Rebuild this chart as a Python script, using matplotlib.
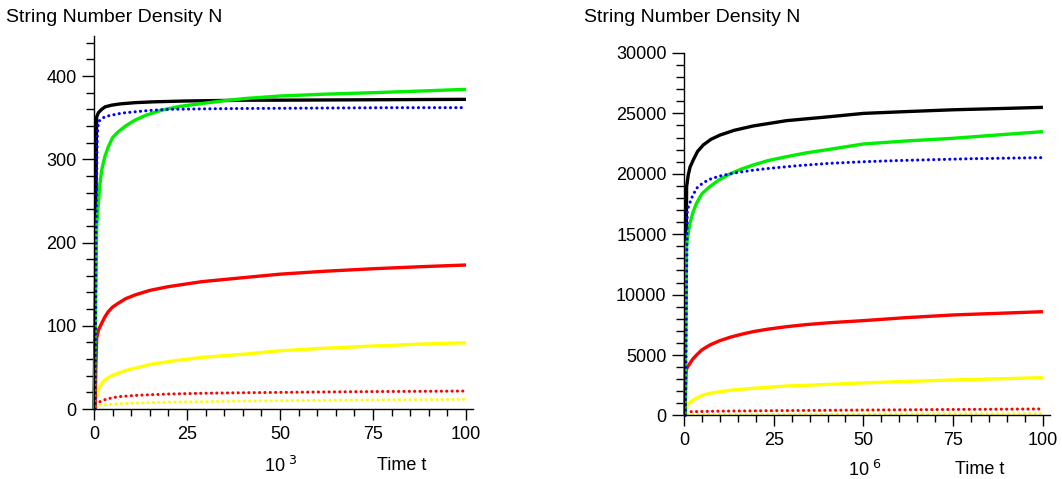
"""
String number density N versus time t, two panels (10^3 and 10^6 time units).
"""

import matplotlib

matplotlib.use("Agg")
import matplotlib.pyplot as plt
from matplotlib.ticker import MultipleLocator

plt.rcParams["font.family"] = ["Liberation Sans", "DejaVu Sans"]

# ---- left panel data (t in units of 10^3) ----
t_black_a = [0, 0.4, 0.6, 0.72, 1.2, 2.07, 3, 4.75, 7, 11, 16, 24.5, 40.6, 50, 75, 100]
n_black_a = [0, 150, 300, 351, 356, 360, 363, 365, 366.5, 368, 369, 370, 371, 371, 371.5, 372]

t_blue_a = [0.3, 0.45, 0.55, 0.75, 0.9, 1.2, 2.07, 3.2, 4.75, 7.5, 11, 15, 20, 30, 40, 60, 80, 100]
n_blue_a = [0, 115, 200, 290, 330, 345, 349, 351.5, 353, 355.5, 357, 358.7, 360, 360.6, 361, 361.5, 362, 362]

t_green_a = [0.1, 0.3, 0.5, 0.72, 1.17, 1.6, 2.07, 2.9, 3.85, 5, 6.5, 8.5, 11, 14, 18.2, 23, 29, 35, 40.6, 50, 62, 75, 88, 100]
n_green_a = [0, 80, 160, 219, 247, 270, 287, 303, 315, 326, 333, 340, 347, 353, 359, 363.5, 367, 370.3, 373, 376, 378.2, 380, 382, 384]

t_red_a = [0.3, 0.5, 0.72, 1.2, 2.07, 2.9, 3.85, 5, 6.5, 8.5, 11, 15, 20, 29, 40.6, 50, 62, 75, 88, 100]
n_red_a = [0, 50, 85, 95, 103, 110.5, 117, 122.5, 127, 132.5, 137, 142.5, 147, 153, 158, 162, 165.5, 168.5, 171, 173]

t_yellow_a = [0.3, 0.6, 1.17, 2, 2.96, 4.5, 6.5, 8.5, 11, 15, 20, 29, 40.6, 50, 62, 75, 88, 100]
n_yellow_a = [0, 12, 23, 30, 35, 39.5, 43, 46.3, 49, 53.5, 57, 62, 66, 70, 73, 75.7, 78, 79.6]

t_reddot_a = [1.6, 3.5, 6.5, 12, 20, 30, 40.6, 55, 70, 85, 100]
n_reddot_a = [8.8, 12.2, 14.8, 16.6, 18, 19, 19.6, 20.2, 20.8, 21.2, 21.6]

t_yeldot_a = [1.6, 5, 10, 20, 40.6, 70, 100]
n_yeldot_a = [4.8, 6, 7, 8.3, 9.6, 10.8, 11.6]

# ---- right panel data (t in units of 10^6) ----
t_black_b = [0.3, 0.5, 0.75, 1.2, 1.7, 2.6, 3.8, 5.4, 7.5, 10, 14, 19.3, 28.6, 40.7, 50, 62, 75, 88, 100]
n_black_b = [0, 9000, 18940, 19900, 20550, 21150, 21850, 22390, 22850, 23200, 23600, 23960, 24400, 24730, 25000, 25150, 25300, 25400, 25500]

t_blue_b = [0.4, 0.55, 0.7, 0.93, 2.1, 3.5, 5.4, 7.5, 10, 14.7, 19, 24, 32, 40.7, 50, 60, 80, 100]
n_blue_b = [0, 3700, 10000, 17000, 17970, 18800, 19270, 19580, 19820, 20100, 20290, 20460, 20680, 20870, 21000, 21100, 21250, 21340]

t_green_b = [0.3, 0.5, 0.75, 1.2, 1.67, 2.5, 3.5, 5, 7.2, 9.8, 12.8, 16, 19.3, 23.5, 28.6, 34, 40.7, 50, 62, 75, 88, 100]
n_green_b = [0, 8000, 14100, 15100, 15900, 16800, 17560, 18350, 18940, 19500, 19990, 20390, 20730, 21100, 21420, 21730, 22030, 22470, 22720, 22940, 23230, 23490]

t_red_b = [0.3, 0.45, 0.6, 1.1, 1.67, 2.5, 3.5, 5, 7.2, 9.8, 12.8, 16, 19.3, 23.5, 28.6, 34, 40.7, 50, 62, 75, 88, 100]
n_red_b = [0, 2000, 3770, 4050, 4320, 4680, 5000, 5430, 5830, 6170, 6470, 6720, 6940, 7150, 7350, 7520, 7680, 7850, 8100, 8320, 8460, 8590]

t_yellow_b = [0.3, 0.75, 1.5, 2.6, 3.9, 5.4, 7.5, 10, 14, 19.3, 28.6, 40.7, 50, 62, 75, 88, 100]
n_yellow_b = [0, 730, 1030, 1280, 1500, 1700, 1850, 1970, 2120, 2250, 2440, 2580, 2700, 2820, 2940, 3040, 3130]

t_reddot_b = [2, 10, 25, 50, 75, 100]
n_reddot_b = [315, 360, 400, 450, 500, 540]

t_yeldot_b = [1, 10, 25, 50, 75, 100]
n_yeldot_b = [60, 90, 110, 125, 140, 150]

BLACK = "#000000"
BLUE = "#0000ff"
GREEN = "#00ee00"
RED = "#ff0000"
YELLOW = "#ffff00"

DOTS = (0, (0.05, 1.7))


def draw_panel(ax, series, ymax, ymajor, yminor):
    for t, n, color, dotted in series:
        if dotted:
            ax.plot(t, n, color=color, lw=2.2, linestyle=DOTS,
                    dash_capstyle="round", clip_on=False)
        else:
            ax.plot(t, n, color=color, lw=2.4, solid_joinstyle="round",
                    solid_capstyle="butt", clip_on=False)

    ax.set_xlim(0, 102)
    ax.set_ylim(0, ymax)
    for side in ("top", "right"):
        ax.spines[side].set_visible(False)
    for side in ("left", "bottom"):
        ax.spines[side].set_linewidth(1.0)

    ax.xaxis.set_major_locator(MultipleLocator(25))
    ax.xaxis.set_minor_locator(MultipleLocator(5))
    ax.yaxis.set_major_locator(MultipleLocator(ymajor))
    ax.yaxis.set_minor_locator(MultipleLocator(yminor))
    ax.tick_params(axis="both", which="both", direction="out", width=1.0,
                   labelsize=13)
    ax.tick_params(axis="y", which="major", length=8.5, pad=4)
    ax.tick_params(axis="y", which="minor", length=6)
    ax.tick_params(axis="x", which="major", length=8, pad=4)
    ax.tick_params(axis="x", which="minor", length=5)
    ax.patch.set_visible(False)


fig = plt.figure(figsize=(10.62, 4.79), dpi=100)

ax1 = fig.add_axes([0.0885, 0.1461, 0.3573, 0.7786])
left_series = [
    (t_reddot_a, n_reddot_a, RED, True),
    (t_yeldot_a, n_yeldot_a, YELLOW, True),
    (t_yellow_a, n_yellow_a, YELLOW, False),
    (t_red_a, n_red_a, RED, False),
    (t_black_a, n_black_a, BLACK, False),
    (t_green_a, n_green_a, GREEN, False),
    (t_blue_a, n_blue_a, BLUE, True),
]
draw_panel(ax1, left_series, 448, 100, 20)

ax2 = fig.add_axes([0.644, 0.1326, 0.3448, 0.7568])
right_series = [
    (t_reddot_b, n_reddot_b, RED, True),
    (t_yeldot_b, n_yeldot_b, YELLOW, True),
    (t_yellow_b, n_yellow_b, YELLOW, False),
    (t_red_b, n_red_b, RED, False),
    (t_black_b, n_black_b, BLACK, False),
    (t_green_b, n_green_b, GREEN, False),
    (t_blue_b, n_blue_b, BLUE, True),
]
draw_panel(ax2, right_series, 30000, 5000, 1000)

# titles and axis captions, placed in figure pixels like the original
W, H = 1062, 479


def ftext(x, y, s, size=13, **kw):
    fig.text(x / W, 1 - y / H, s, fontsize=size, **kw)


ftext(6, 17, "String Number Density N", size=14, va="center", ha="left")
ftext(584, 17, "String Number Density N", size=14, va="center", ha="left")
ftext(264, 466, r"10$^{\ 3}$", va="center", ha="left")
ftext(377, 466, "Time t", va="center", ha="left")
ftext(848, 470, r"10$^{\ 6}$", va="center", ha="left")
ftext(955, 469, "Time t", va="center", ha="left")

fig.savefig("out.png", dpi=100)
